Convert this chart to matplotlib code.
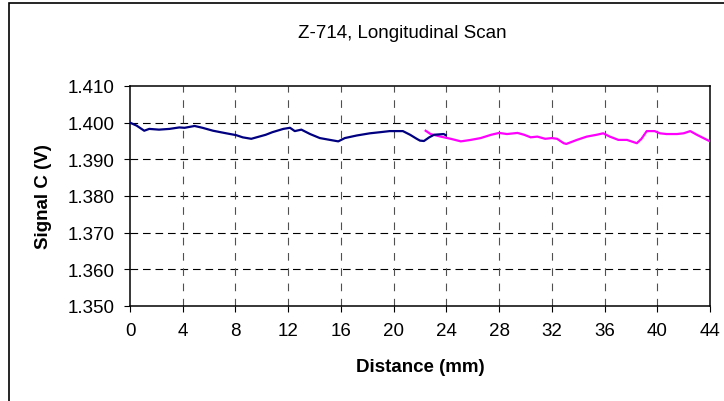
import matplotlib
matplotlib.use("Agg")
import matplotlib.pyplot as plt
from matplotlib.patches import Rectangle

plt.rcParams['font.family'] = ['Liberation Sans', 'DejaVu Sans']
plt.rcParams['lines.scale_dashes'] = False

# scan 1 (navy) and scan 2 (magenta), distance in mm, signal in V
scan1_x = [0, 0.5, 1.08, 1.46, 2.2, 3.0, 3.74, 4.14, 4.9, 5.5, 6.3, 7.3, 8.05,
           8.55, 9.2, 9.8, 10.3, 10.8, 11.63, 12.14, 12.5, 13.0, 13.66, 14.4,
           15.17, 15.8, 16.3, 17.2, 18.2, 18.97, 19.7, 20.7, 21.25, 21.75,
           22.0, 22.3, 22.7, 23.07, 23.8, 23.95]
scan1_y = [1.4000, 1.3992, 1.3978, 1.3983, 1.3981, 1.3983, 1.3987, 1.3986,
           1.3991, 1.3986, 1.3978, 1.3971, 1.3966, 1.3960, 1.3956, 1.3962,
           1.3967, 1.3974, 1.3983, 1.3986, 1.3977, 1.3981, 1.3969, 1.3958,
           1.3953, 1.3949, 1.3958, 1.3965, 1.3971, 1.3974, 1.3977, 1.3977,
           1.3967, 1.3956, 1.3951, 1.3950, 1.3960, 1.3967, 1.3969, 1.3966]

scan2_x = [22.43, 22.8, 23.57, 24.33, 25.1, 25.85, 26.6, 27.4, 28.0, 28.6,
           29.4, 29.9, 30.4, 30.9, 31.5, 32.0, 32.4, 32.9, 33.1, 33.9, 34.65,
           35.4, 35.9, 36.4, 37.05, 37.7, 38.45, 38.8, 39.2, 39.8, 40.2, 40.7,
           41.5, 42.0, 42.5, 43.0, 43.5, 44.0]
scan2_y = [1.3978, 1.3969, 1.3962, 1.3956, 1.3949, 1.3953, 1.3958, 1.3967,
           1.3972, 1.3969, 1.3972, 1.3967, 1.3960, 1.3962, 1.3956, 1.3958,
           1.3956, 1.3944, 1.3942, 1.3953, 1.3962, 1.3967, 1.3971, 1.3962,
           1.3953, 1.3953, 1.3944, 1.3956, 1.3977, 1.3977, 1.3971, 1.3969,
           1.3969, 1.3971, 1.3977, 1.3967, 1.3958, 1.3949]

xticks = list(range(0, 45, 4))
yticks = [1.350, 1.360, 1.370, 1.380, 1.390, 1.400, 1.410]

fig = plt.figure(figsize=(7.24, 4.02), dpi=100)
ax = fig.add_axes([130 / 724, 1 - 307 / 402, 580 / 724, 220 / 402])

# chart frame
fig.patches.append(Rectangle((9 / 724, -0.1), 1.2, 1.1 - 4 / 402,
                             transform=fig.transFigure, fill=False,
                             edgecolor='black', linewidth=1.2))

ax.plot(scan2_x, scan2_y, color='#FF00FF', lw=1.6, zorder=3)
ax.plot(scan1_x, scan1_y, color='#000080', lw=1.6, zorder=4)

ax.set_xlim(0, 44)
ax.set_ylim(1.350, 1.410)
ax.set_xticks(xticks)
ax.set_yticks(yticks)
ax.set_yticklabels([f"{v:.3f}" for v in yticks])

for y in yticks[1:-1]:
    ax.axhline(y, color='black', lw=0.8, dashes=(5.5, 3.5), zorder=1)
for x in xticks[1:-1]:
    ax.axvline(x, color='#505050', lw=0.8, dashes=(5.5, 5.5), zorder=1)

for s in ax.spines.values():
    s.set_linewidth(1.1)
ax.tick_params(direction='out', length=4.3, width=0.8, labelsize=13.5, pad=7)

ax.set_xlabel("Distance (mm)", fontsize=13.5, fontweight='bold')
ax.set_ylabel("Signal C (V)", fontsize=13.5, fontweight='bold')
ax.xaxis.set_label_coords(0.5, (307 - 368) / 220)
ax.xaxis.label.set_va('center')
ax.yaxis.set_label_coords((44 - 130) / 580, 0.5)
ax.yaxis.label.set_va('center')

fig.text(402 / 724, 1 - 33 / 402, "Z-714, Longitudinal Scan",
         ha='center', va='center', fontsize=13.5)

fig.savefig("out.png", dpi=100)
